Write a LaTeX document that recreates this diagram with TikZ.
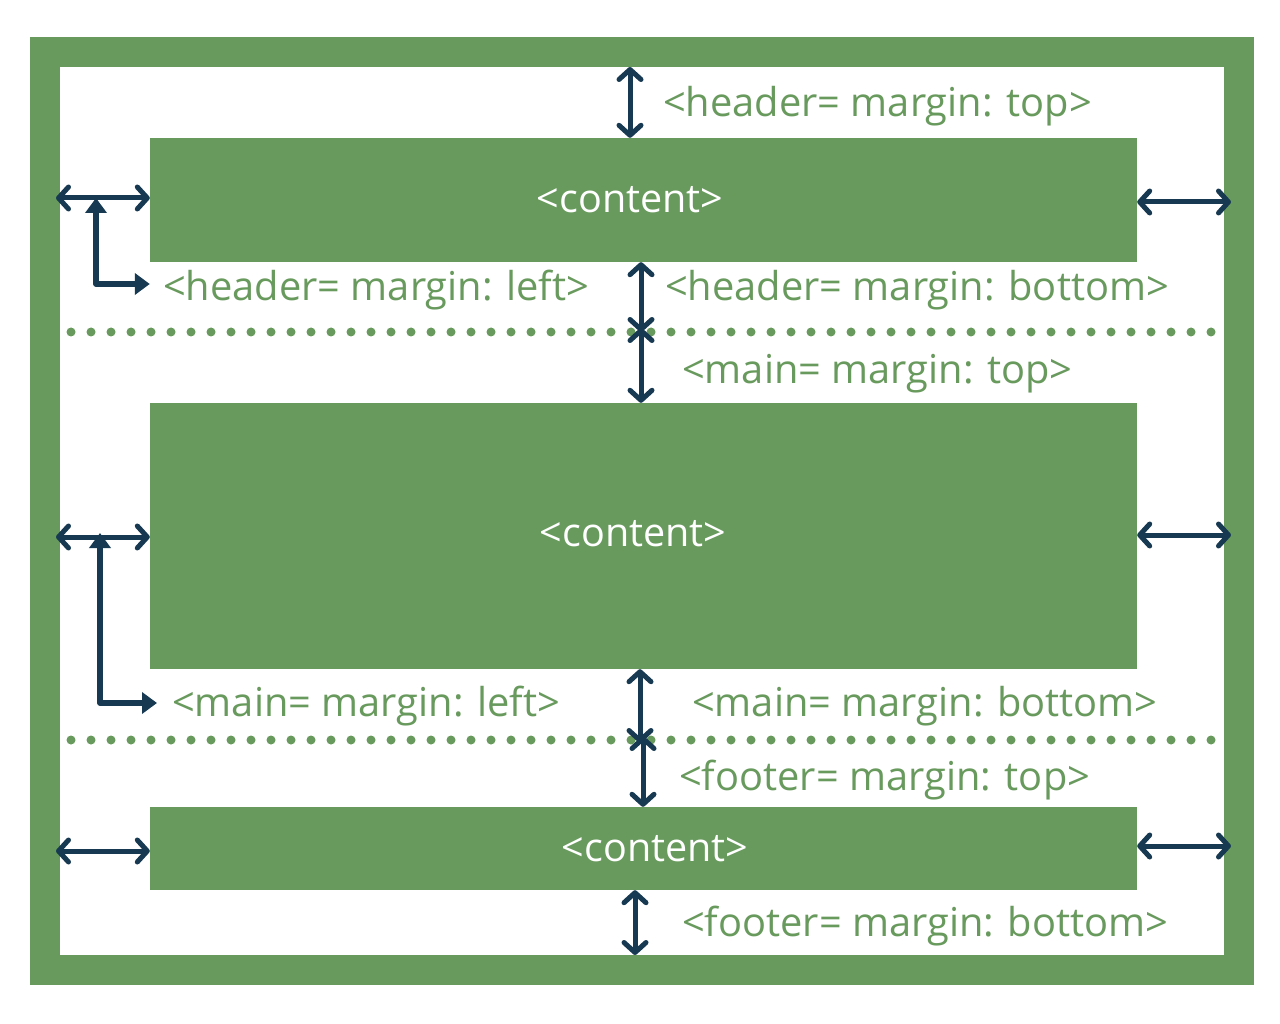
\documentclass[tikz,border=0pt]{standalone}
\usepackage{fontspec}
\setmainfont{Open Sans}
\usetikzlibrary{arrows.meta}
\definecolor{grn}{HTML}{699A5D}
\definecolor{nvy}{HTML}{173A52}
\begin{document}
\begin{tikzpicture}[x=1pt,y=-1pt,
  frame/.style={fill=grn, draw=none, inner sep=0, minimum width=1224, minimum height=948},
  page/.style={fill=white, draw=none, inner sep=0, minimum width=1164, minimum height=888},
  box/.style={fill=grn, draw=none, inner sep=0, minimum width=987},
  ctext/.style={text=white, inner sep=0, font=\fontsize{39.5}{44}\selectfont},
  lbl/.style={text=grn, inner sep=0, anchor=west, font=\fontsize{39.8}{44}\selectfont},
  dim/.style={draw=nvy, line width=5, line cap=round,
    {Straight Barb[length=10,width=22,line width=5,round]}-{Straight Barb[length=10,width=22,line width=5,round]}},
  elb/.style={draw=nvy, line width=5.5, line join=round,
    {Triangle[length=15,width=21]}-{Triangle[length=15,width=21]}}
]
\useasboundingbox (0,0) rectangle (1280,1024);
\node[frame] (fr) at (642,511) {};
\node[page] (pg) at (642,511) {};
% boxes
\node[box, minimum height=124] (hdr) at (643.5,200) {};
\node[box, minimum height=266] (mn) at (643.5,536) {};
\node[box, minimum height=83] (ftr) at (643.5,848.5) {};
\node[ctext] (thdr) at (630,200) {<content>};
\node[ctext] (tmn) at (633,534) {<content>};
\node[ctext] (tftr) at (655,849) {<content>};
% dotted separators
\foreach \i in {0,...,57} {
  \fill[grn] (71+\i*20,332) circle (4.5);
  \fill[grn] (71+\i*20,740) circle (4.5);
}
\coordinate (sep1) at (641,332);
\coordinate (sep2) at (640,740);
% coordinates for arrow ends
\coordinate (ht) at (630,67);
\coordinate (hl) at (56,198);
\coordinate (hr) at (1231,202);
\coordinate (he) at (96,284);
\coordinate (ml) at (56,537);
\coordinate (mr) at (1231,535);
\coordinate (me) at (100,703);
\coordinate (fl) at (56,851);
\coordinate (fr2) at (1231,846);
\coordinate (fb) at (635,955);
% header arrows
\draw[dim] (ht) -- (ht |- hdr.north);
\draw[dim] (hl) -- (hl -| hdr.west);
\draw[dim] (hdr.east |- hr) -- (hr);
\draw[elb] (he |- hl) -- (he) -- (he -| hdr.west);
\draw[dim] (hdr.south -| sep1) -- (sep1);
% main arrows
\draw[dim] ([yshift=4]sep1) -- (sep1 |- mn.north);
\draw[dim] (ml) -- (ml -| mn.west);
\draw[dim] (mn.east |- mr) -- (mr);
\draw[elb] ([yshift=4]me |- ml) -- (me) -- ([xshift=57]me);
\draw[dim] (mn.south -| sep2) -- ([yshift=-3]sep2);
% footer arrows
\draw[dim] ([xshift=3,yshift=4]sep2) -- ([xshift=3]sep2 |- ftr.north);
\draw[dim] (fl) -- (fl -| ftr.west);
\draw[dim] (ftr.east |- fr2) -- (fr2);
\draw[dim] (ftr.south -| fb) -- (fb);
% labels
\node[lbl] (l1) at (663,106) {<header= margin: top>};
\node[lbl] (l2) at (163,290) {<header= margin: left>};
\node[lbl] (l3) at (665,290) {<header= margin: bottom>};
\node[lbl] (l4) at (682,374) {<main= margin: top>};
\node[lbl] (l5) at (172,706) {<main= margin: left>};
\node[lbl] (l6) at (692,706) {<main= margin: bottom>};
\node[lbl] (l7) at (679,780) {<footer= margin: top>};
\node[lbl] (l8) at (682,926) {<footer= margin: bottom>};
\end{tikzpicture}
\end{document}
